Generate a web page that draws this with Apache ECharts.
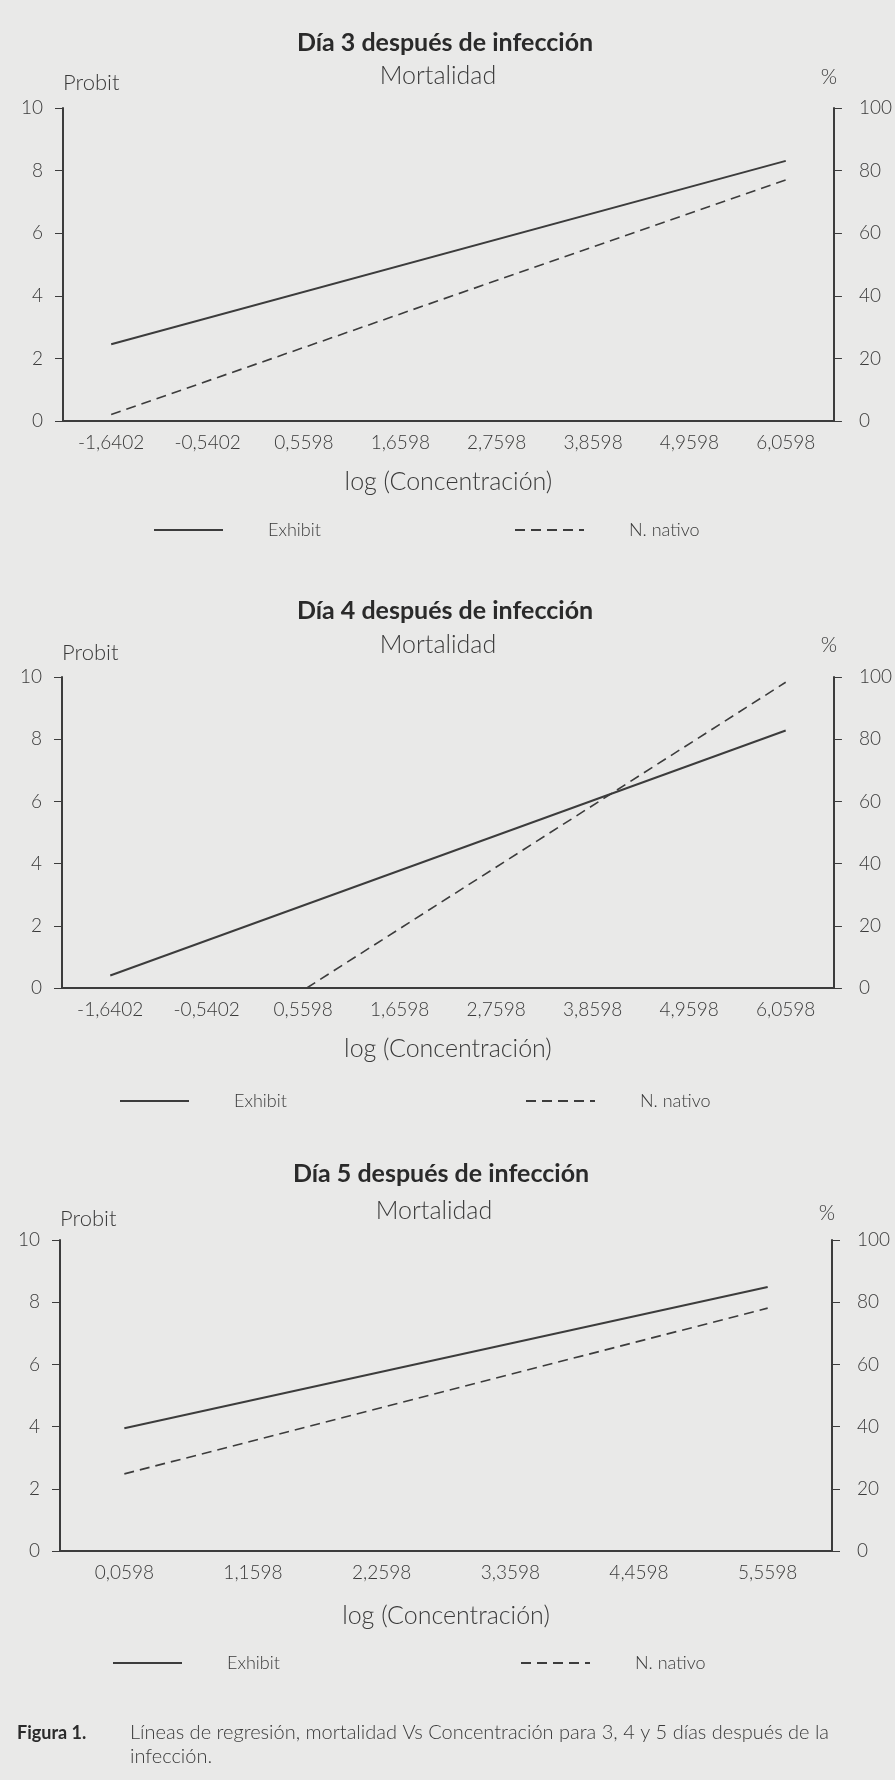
<!DOCTYPE html>
<html>
<head>
<meta charset="utf-8">
<script src="https://cdn.jsdelivr.net/npm/echarts@6/dist/echarts.min.js"></script>
<style>
html,body{margin:0;padding:0;background:#e9e9e8;}
#c{width:895px;height:1780px;}
</style>
</head>
<body>
<div id="c"></div>
<script>
// ---- data ----
const titles = ['Día 3 después de infección', 'Día 4 después de infección', 'Día 5 después de infección'];
const catsA = ['-1,6402','-0,5402','0,5598','1,6598','2,7598','3,8598','4,9598','6,0598'];
const catsB = ['0,0598','1,1598','2,2598','3,3598','4,4598','5,5598'];
const probitTicks = [0, 10, 2];      // min, max, interval
const pctTicks = [0, 100, 20];
// regression line end points [log concentration, probit]
const exhibitD3 = [[-1.6402, 2.45], [6.0598, 8.31]];
const nativoD3  = [[-1.6402, 0.21], [6.0598, 7.70]];
const exhibitD4 = [[-1.6402, 0.40], [6.0598, 8.28]];
const nativoD4  = [[0.60, 0.00], [6.0598, 9.83]];
const exhibitD5 = [[0.0598, 3.95], [5.5598, 8.49]];
const nativoD5  = [[0.0598, 2.48], [5.5598, 7.81]];
const caption1 = 'Figura 1.';
const caption2 = 'Líneas de regresión, mortalidad Vs Concentración para 3, 4 y 5 días después de la\ninfección.';

// ---- layout ----
const FONT = 'Lato, "Noto Sans", sans-serif';
const TXT = '#3a3a3a';
const LINE = '#3c3c3c';
const panels = [
  {cats: catsA, left: 63, right: 60, top: 108, height: 313, titleY: 43, mortY: 76, probitGap: 25, pctGap: 31,
   ex: exhibitD3, na: nativoD3, leg: [153, 514], legY: 530, titleX: 445, mortX: 438},
  {cats: catsA, left: 62, right: 61, top: 677, height: 311, titleY: 611, mortY: 645, probitGap: 24, pctGap: 32,
   ex: exhibitD4, na: nativoD4, leg: [119, 525], legY: 1101, titleX: 445, mortX: 438},
  {cats: catsB, left: 60, right: 63, top: 1240, height: 311, titleY: 1174, mortY: 1211, probitGap: 21, pctGap: 27,
   ex: exhibitD5, na: nativoD5, leg: [112, 520], legY: 1663, titleX: 441, mortX: 434}
];

const grid = [], xAxis = [], yAxis = [], series = [], title = [], legend = [];
panels.forEach((p, i) => {
  grid.push({left: p.left, right: p.right, top: p.top, height: p.height, containLabel: false});
  const n = p.cats.length;
  const first = parseFloat(p.cats[0].replace(',', '.'));
  const last = parseFloat(p.cats[n - 1].replace(',', '.'));
  const step = (last - first) / (n - 1);
  xAxis.push({
    type: 'category', gridIndex: i, data: p.cats, boundaryGap: true,
    axisLine: {show: true, onZero: false, lineStyle: {color: LINE, width: 2}},
    axisTick: {show: false},
    axisLabel: {color: TXT, fontSize: 19, fontFamily: FONT, fontWeight: 300, margin: 12},
    name: 'log (Concentración)', nameLocation: 'middle', nameGap: (i === 2 ? 65 : 61),
    nameTextStyle: {color: TXT, fontSize: 25, fontFamily: FONT, fontWeight: 300, verticalAlign: 'middle'}
  });
  xAxis.push({type: 'value', gridIndex: i, show: false, min: first - step / 2, max: last + step / 2,
    axisLine: {onZero: false}});
  yAxis.push({
    type: 'value', gridIndex: i, position: 'left', min: probitTicks[0], max: probitTicks[1], interval: probitTicks[2],
    axisLine: {show: true, onZero: false, lineStyle: {color: LINE, width: 2}},
    axisTick: {show: true, inside: false, length: 8, lineStyle: {color: LINE, width: 1}},
    splitLine: {show: false},
    axisLabel: {color: TXT, fontSize: 19, fontFamily: FONT, fontWeight: 300, margin: 20},
    name: 'Probit', nameLocation: 'end', nameGap: p.probitGap,
    nameTextStyle: {color: TXT, fontSize: 22, fontFamily: FONT, fontWeight: 300, align: 'left', verticalAlign: 'middle'}
  });
  yAxis.push({
    type: 'value', gridIndex: i, position: 'right', min: pctTicks[0], max: pctTicks[1], interval: pctTicks[2],
    axisLine: {show: true, onZero: false, lineStyle: {color: LINE, width: 2}},
    axisTick: {show: true, inside: false, length: 8, lineStyle: {color: LINE, width: 1}},
    splitLine: {show: false},
    axisLabel: {color: TXT, fontSize: 19, fontFamily: FONT, fontWeight: 300, margin: 25},
    name: '%', nameLocation: 'end', nameGap: p.pctGap,
    nameTextStyle: {color: TXT, fontSize: 21, fontFamily: FONT, fontWeight: 300, align: 'center', padding: [0, 10, 0, 0], verticalAlign: 'middle'}
  });
  series.push({
    name: 'Exhibit', type: 'line', xAxisIndex: 2 * i + 1, yAxisIndex: 2 * i, data: p.ex,
    symbol: 'none', silent: true, lineStyle: {color: LINE, width: 2}, itemStyle: {color: LINE}
  });
  series.push({
    name: 'N. nativo', type: 'line', xAxisIndex: 2 * i + 1, yAxisIndex: 2 * i, data: p.na,
    symbol: 'none', silent: true, lineStyle: {color: LINE, width: 1.6, type: [10, 6]}, itemStyle: {color: LINE}
  });
  title.push({
    text: titles[i], left: p.titleX, top: p.titleY - 15, textAlign: 'center', padding: 0,
    textStyle: {color: '#2a2a2a', fontSize: 25, fontWeight: 'bold', fontFamily: FONT, lineHeight: 30}
  });
  title.push({
    text: 'Mortalidad', left: p.mortX, top: p.mortY - 15, textAlign: 'center', padding: 0,
    textStyle: {color: TXT, fontSize: 25, fontWeight: 300, fontFamily: FONT, lineHeight: 30}
  });
  ['Exhibit', 'N. nativo'].forEach((nm, k) => {
    legend.push({
      data: [nm], left: p.leg[k], top: p.legY - 10, padding: 0, itemWidth: 69, itemHeight: 14,
      selectedMode: false, itemStyle: {opacity: 0, borderWidth: 0},
      textStyle: {color: TXT, fontSize: 18, fontFamily: FONT, fontWeight: 300, padding: [0, 0, 0, 40], lineHeight: 20}
    });
  });
});
title.push({
  text: caption1, left: 17, top: 1733 - 12, padding: 0,
  textStyle: {color: '#2a2a2a', fontSize: 18, fontWeight: 'bold', fontFamily: FONT, lineHeight: 24}
});
title.push({
  text: caption2, left: 130, top: 1733 - 12, padding: 0,
  textStyle: {color: TXT, fontSize: 20, fontWeight: 300, fontFamily: FONT, lineHeight: 24}
});

const chart = echarts.init(document.getElementById('c'), null, {renderer: 'canvas'});
chart.setOption({
  backgroundColor: '#e9e9e8',
  animation: false,
  title, grid, xAxis, yAxis, series, legend
});
</script>
</body>
</html>
